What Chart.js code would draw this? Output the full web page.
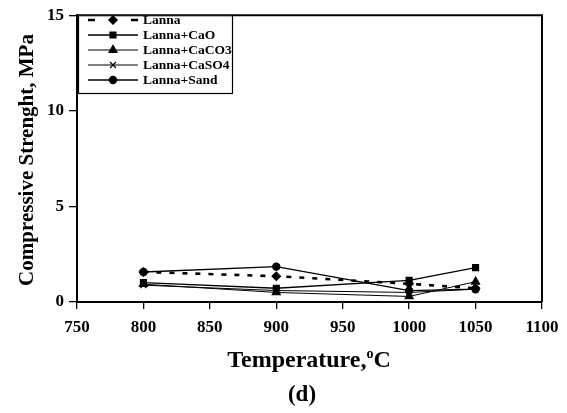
<!DOCTYPE html>
<html>
<head>
<meta charset="utf-8">
<script src="https://cdn.jsdelivr.net/npm/chart.js@4.4.1/dist/chart.umd.min.js"></script>
<style>
  html, body { margin: 0; padding: 0; background: #fff; }
  #wrap { width: 567px; height: 413px; }
</style>
</head>
<body>
<div id="wrap"><canvas id="c" width="567" height="413"></canvas></div>
<script>
// Firing temperature (°C)
const temperatures = [800, 900, 1000, 1050];

// Compressive strength (MPa) for each mix
const lanna       = [1.57, 1.35, 0.95, 0.72];
const lannaCaO    = [1.01, 0.72, 1.13, 1.80];
const lannaCaCO3  = [0.93, 0.50, 0.29, 1.06];
const lannaCaSO4  = [0.88, 0.60, 0.50, 0.67];
const lannaSand   = [1.57, 1.85, 0.59, 0.67];

const seriesNames = ['Lanna', 'Lanna+CaO', 'Lanna+CaCO3', 'Lanna+CaSO4', 'Lanna+Sand'];

const xTicks = [750, 800, 850, 900, 950, 1000, 1050, 1100];
const yTicks = [0, 5, 10, 15];

const SERIF = '"Liberation Serif", "Times New Roman", serif';

const pairs = vals => temperatures.map((t, i) => ({ x: t, y: vals[i] }));

const styles = [
  { pointStyle: 'rectRot',  radius: 4.2, borderWidth: 2.6, dash: [5, 8] },
  { pointStyle: 'rect',     radius: 4.2, borderWidth: 1.3, dash: [] },
  { pointStyle: 'triangle', radius: 4.6, borderWidth: 1,   dash: [] },
  { pointStyle: 'crossRot', radius: 4.2, borderWidth: 1,   dash: [] },
  { pointStyle: 'circle',   radius: 3.6, borderWidth: 1.3, dash: [] }
];

const values = [lanna, lannaCaO, lannaCaCO3, lannaCaSO4, lannaSand];

const datasets = values.map((v, i) => ({
  label: seriesNames[i],
  data: pairs(v),
  borderColor: '#000',
  backgroundColor: '#000',
  borderWidth: styles[i].borderWidth,
  borderDash: styles[i].dash,
  pointStyle: styles[i].pointStyle,
  pointRadius: styles[i].radius,
  pointBorderWidth: 1.2,
  pointBackgroundColor: '#000',
  pointBorderColor: '#000',
  tension: 0,
  fill: false
}));

// Frame, legend box and captions
const decorations = {
  id: 'decorations',
  afterDatasetsDraw(chart) {
    const ctx = chart.ctx;
    const a = chart.chartArea;
    ctx.save();

    // top and right frame lines
    ctx.strokeStyle = '#000';
    ctx.lineWidth = 2;
    ctx.beginPath();
    ctx.moveTo(a.left, a.top);
    ctx.lineTo(a.right, a.top);
    ctx.lineTo(a.right, a.bottom);
    ctx.stroke();

    // legend box
    const bx = a.left + 1, by = a.top, bw = 233 - bx, bh = 94 - by;
    ctx.fillStyle = '#fff';
    ctx.fillRect(bx, by, bw, bh);
    ctx.lineWidth = 1.2;
    ctx.strokeRect(bx + 0.5, by + 0.5, bw - 1, bh - 1);

    chart.data.datasets.forEach((ds, i) => {
      const y = 20 + i * 15;
      ctx.save();
      ctx.strokeStyle = '#000';
      ctx.lineWidth = ds.borderWidth;
      ctx.beginPath();
      if (i === 0) {
        // dashed sample: one dash on each side of the marker
        ctx.moveTo(88, y); ctx.lineTo(95, y);
        ctx.moveTo(131, y); ctx.lineTo(138, y);
      } else {
        ctx.moveTo(88, y); ctx.lineTo(138, y);
      }
      ctx.stroke();
      ctx.restore();
      ctx.fillStyle = '#000';
      ctx.strokeStyle = '#000';
      Chart.helpers.drawPoint(ctx, {
        pointStyle: ds.pointStyle,
        radius: ds.pointRadius,
        borderWidth: ds.pointBorderWidth,
        rotation: 0
      }, 113, y);
      ctx.fillStyle = '#000';
      ctx.font = 'bold 13.5px ' + SERIF;
      ctx.textAlign = 'left';
      ctx.textBaseline = 'middle';
      ctx.fillText(ds.label, 143, y + 1);
    });

    // y axis title
    ctx.fillStyle = '#000';
    ctx.save();
    ctx.translate(33, 160);
    ctx.rotate(-Math.PI / 2);
    ctx.font = 'bold 21px ' + SERIF;
    ctx.textAlign = 'center';
    ctx.textBaseline = 'alphabetic';
    ctx.fillText('Compressive Strenght, MPa', 0, 0);
    ctx.restore();

    // x axis title with superscript degree mark
    const main = 'Temperature,';
    const sup = 'o';
    const tail = 'C';
    const bigFont = 'bold 24px ' + SERIF;
    const smallFont = 'bold 14px ' + SERIF;
    ctx.font = bigFont;
    const w1 = ctx.measureText(main).width;
    const w3 = ctx.measureText(tail).width;
    ctx.font = smallFont;
    const w2 = ctx.measureText(sup).width;
    let x = 309 - (w1 + w2 + w3) / 2;
    const base = 367;
    ctx.textAlign = 'left';
    ctx.textBaseline = 'alphabetic';
    ctx.font = bigFont;
    ctx.fillText(main, x, base);
    x += w1;
    ctx.font = smallFont;
    ctx.fillText(sup, x, base - 9);
    x += w2;
    ctx.font = bigFont;
    ctx.fillText(tail, x, base);

    // panel label
    ctx.textAlign = 'center';
    ctx.font = 'bold 23px ' + SERIF;
    ctx.fillText('(d)', 302, 401);

    ctx.restore();
  }
};

new Chart(document.getElementById('c'), {
  type: 'line',
  data: { datasets },
  options: {
    responsive: false,
    animation: false,
    events: [],
    layout: { padding: { left: 0, top: 6, right: 25, bottom: 0 } },
    plugins: {
      legend: { display: false },
      tooltip: { enabled: false }
    },
    scales: {
      x: {
        type: 'linear',
        min: xTicks[0],
        max: xTicks[xTicks.length - 1],
        afterBuildTicks: s => { s.ticks = xTicks.map(v => ({ value: v })); },
        afterFit: s => { s.height = 111; },
        ticks: {
          color: '#000',
          font: { family: SERIF, size: 17, weight: 'bold' },
          padding: 8,
          maxRotation: 0,
          callback: v => String(v)
        },
        grid: { drawOnChartArea: false, drawTicks: true, tickLength: 7, color: '#000', lineWidth: 1.3 },
        border: { color: '#000', width: 2 }
      },
      y: {
        min: yTicks[0],
        max: yTicks[yTicks.length - 1],
        afterBuildTicks: s => { s.ticks = yTicks.map(v => ({ value: v })); },
        afterFit: s => { s.width = 77; },
        ticks: {
          color: '#000',
          font: { family: SERIF, size: 17, weight: 'bold' },
          padding: 5,
          callback: v => String(v)
        },
        grid: { drawOnChartArea: false, drawTicks: true, tickLength: 8, color: '#000', lineWidth: 1.3 },
        border: { color: '#000', width: 2 }
      }
    }
  },
  plugins: [decorations]
});
</script>
</body>
</html>
